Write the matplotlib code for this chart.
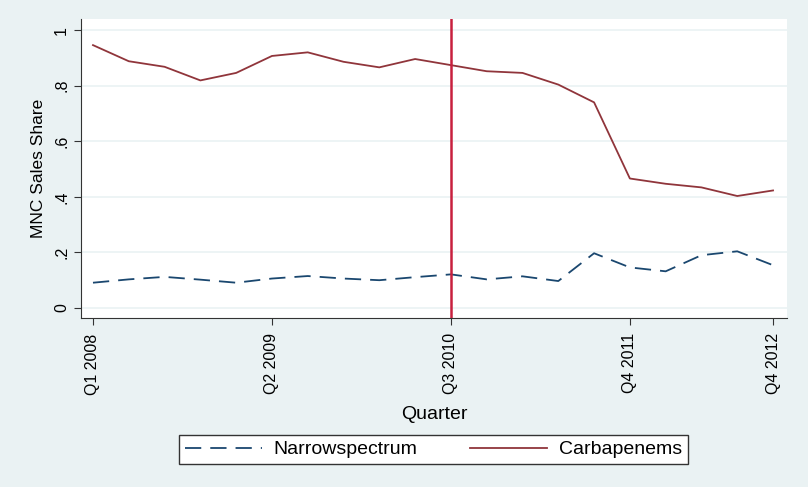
import matplotlib.pyplot as plt

plt.rcParams['font.family'] = ['Liberation Sans', 'DejaVu Sans']

# quarters Q1 2008 .. Q4 2012
quarters = list(range(20))
tick_pos = [0, 5, 10, 15, 19]
tick_labels = ['Q1 2008', 'Q2 2009', 'Q3 2010', 'Q4 2011', 'Q4 2012']

carbapenems = [0.946, 0.888, 0.868, 0.819, 0.846, 0.907, 0.920, 0.886, 0.866, 0.896,
               0.874, 0.852, 0.846, 0.804, 0.740, 0.466, 0.447, 0.434, 0.403, 0.423]
narrow = [0.091, 0.103, 0.112, 0.102, 0.091, 0.106, 0.115, 0.106, 0.100, 0.111,
          0.121, 0.103, 0.114, 0.097, 0.197, 0.146, 0.132, 0.190, 0.204, 0.154]
break_q = 10

bg = '#eaf2f3'
fig = plt.figure(figsize=(8.08, 4.87), dpi=100, facecolor=bg)
ax = fig.add_axes([81 / 808, 1 - 318 / 487, (787 - 81) / 808, (318 - 19) / 487])
ax.set_facecolor('white')

ax.plot(quarters, narrow, color='#1a476f', lw=1.3, dashes=(9, 5), label='Narrowspectrum')
ax.plot(quarters, carbapenems, color='#90353b', lw=1.3, label='Carbapenems')
ax.axvline(break_q, color='#c8203e', lw=1.8)

ax.set_xlim(-0.335, 19.39)
ax.set_ylim(-0.036, 1.04)
yt = [0, 0.2, 0.4, 0.6, 0.8, 1.0]
ax.set_yticks(yt)
ax.set_yticklabels(['0', '.2', '.4', '.6', '.8', '1'], rotation=90, va='center')
ax.set_xticks(tick_pos)
ax.set_xticklabels(tick_labels, rotation=90)
ax.tick_params(labelsize=11.5, length=5, color='#333333')
ax.tick_params(axis='x', pad=6)
ax.grid(axis='y', color=bg, lw=1.2)
ax.set_axisbelow(True)
for s in ['top', 'right']:
    ax.spines[s].set_visible(False)
for s in ['left', 'bottom']:
    ax.spines[s].set_color('#333333')

ax.set_ylabel('MNC Sales Share', fontsize=12.5, labelpad=6)
ax.set_xlabel('Quarter', fontsize=14, labelpad=8)

leg = fig.legend(loc='center', bbox_to_anchor=(433.5 / 808, 1 - 449.5 / 487), ncol=2,
                 frameon=True, fancybox=False, edgecolor='#333333', fontsize=14,
                 handlelength=3.95, handletextpad=0.6, columnspacing=2.7,
                 borderpad=0.3, borderaxespad=0, framealpha=1)
leg.get_frame().set_linewidth(1)

fig.savefig('out.png', dpi=100, facecolor=bg)
